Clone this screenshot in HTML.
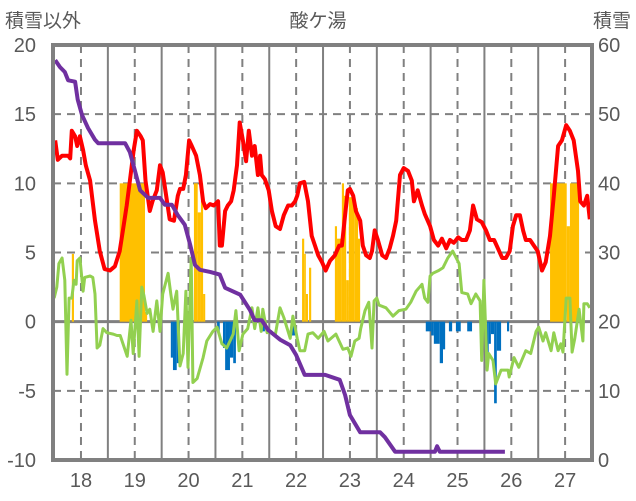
<!DOCTYPE html>
<html><head><meta charset="utf-8">
<style>
html,body{margin:0;padding:0;background:#fff;}
svg{display:block;font-family:"Liberation Sans","Noto Sans CJK JP",sans-serif;}
</style></head>
<body>
<svg id="chart" width="636" height="501" viewBox="0 0 636 501" xmlns="http://www.w3.org/2000/svg">
<text x="5" y="27" font-size="19" fill="#595959">積雪以外</text>
<text x="318" y="27" font-size="19" fill="#595959" text-anchor="middle">酸ケ湯</text>
<text x="631" y="27" font-size="19" fill="#595959" text-anchor="end">積雪</text>
<g id="grid"></g>
<g id="bars"></g>
<g id="lines"></g>
<g id="axes"></g>
</svg>
<script>
const dayTicks=[18,19,20,21,22,23,24,25,26,27];
const leftTicks=[20,15,10,5,0,-5,-10];
const rightTicks=[60,50,40,30,20,10,0];
const redDays=[17.52,17.57,17.65,17.76,17.80,17.83,17.89,17.93,17.98,18.04,18.09,18.17,18.26,18.35,18.44,18.54,18.63,18.72,18.78,18.85,18.91,18.98,19.04,19.11,19.15,19.20,19.28,19.33,19.41,19.47,19.52,19.60,19.65,19.73,19.80,19.84,19.90,19.95,20.01,20.06,20.14,20.21,20.27,20.32,20.40,20.47,20.55,20.58,20.62,20.68,20.73,20.79,20.84,20.90,20.95,21.01,21.07,21.12,21.18,21.23,21.29,21.33,21.36,21.42,21.49,21.55,21.62,21.70,21.77,21.85,21.92,21.98,22.02,22.07,22.15,22.22,22.29,22.35,22.41,22.48,22.55,22.63,22.72,22.80,22.85,22.91,22.96,23.00,23.06,23.11,23.19,23.24,23.30,23.37,23.41,23.46,23.52,23.60,23.67,23.74,23.80,23.86,23.93,24.00,24.08,24.15,24.19,24.26,24.34,24.39,24.49,24.56,24.64,24.71,24.79,24.86,24.93,25.01,25.08,25.16,25.23,25.29,25.36,25.45,25.53,25.60,25.68,25.75,25.83,25.90,25.97,26.03,26.09,26.16,26.22,26.27,26.35,26.42,26.49,26.57,26.64,26.72,26.79,26.87,26.94,27.02,27.09,27.16,27.24,27.28,27.35,27.41,27.46];
const redVals=[13.1,11.7,12.0,12.0,11.8,13.8,13.4,12.7,13.4,12.4,11.3,10.2,7.3,5.1,3.8,3.7,4.0,5.1,6.6,8.4,10.2,12.4,13.8,13.4,13.1,10.2,8.0,8.7,9.5,11.3,10.8,8.7,7.4,7.3,9.1,9.6,9.6,10.6,13.1,12.7,12.0,10.6,8.7,8.2,8.5,8.4,8.7,5.5,5.5,8.0,8.4,8.7,9.5,11.3,14.4,13.1,11.6,13.8,12.0,12.7,10.6,12.0,10.6,10.3,9.5,8.0,6.9,6.7,7.7,8.4,8.4,8.7,9.1,10.0,10.1,8.7,6.2,5.5,4.8,4.3,3.7,4.4,4.8,5.5,5.5,7.7,9.5,9.6,9.1,8.0,7.3,5.5,4.8,4.6,5.1,6.6,5.9,4.8,4.6,5.3,6.2,7.3,10.6,11.1,10.9,10.2,8.7,9.5,8.4,7.8,6.9,5.9,5.5,6.0,5.3,5.9,5.7,6.1,5.9,5.9,6.6,8.4,7.4,7.2,6.6,5.9,5.9,5.3,4.6,4.6,5.1,6.9,7.7,7.7,6.6,5.9,5.9,5.5,5.1,3.7,4.3,6.2,9.1,12.7,13.1,14.2,13.8,13.1,10.9,8.7,8.4,9.1,7.4];
const greenDays=[17.50,17.55,17.59,17.65,17.70,17.74,17.78,17.83,17.87,17.91,17.93,17.98,18.04,18.07,18.17,18.22,18.26,18.30,18.35,18.41,18.48,18.60,18.67,18.73,18.86,18.93,18.97,19.04,19.08,19.13,19.17,19.23,19.28,19.34,19.41,19.47,19.52,19.62,19.67,19.71,19.78,19.84,19.90,19.95,19.99,20.05,20.08,20.16,20.27,20.34,20.45,20.53,20.62,20.71,20.77,20.83,20.88,20.94,21.01,21.10,21.18,21.23,21.29,21.35,21.38,21.46,21.53,21.61,21.70,21.77,21.89,21.94,22.02,22.07,22.16,22.22,22.31,22.41,22.52,22.59,22.74,22.87,22.96,23.02,23.09,23.17,23.20,23.28,23.35,23.41,23.45,23.50,23.54,23.67,23.80,23.91,24.04,24.13,24.23,24.34,24.39,24.45,24.49,24.54,24.65,24.73,24.82,24.91,25.03,25.08,25.19,25.25,25.34,25.42,25.45,25.49,25.55,25.58,25.66,25.71,25.81,25.94,25.96,26.05,26.14,26.27,26.36,26.46,26.51,26.59,26.64,26.74,26.79,26.87,26.92,26.96,27.02,27.09,27.13,27.18,27.26,27.33,27.35,27.41,27.46];
const greenVals=[1.7,2.5,4.2,4.6,3.0,-3.8,1.7,1.7,3.0,2.7,4.4,4.6,2.2,3.2,3.3,3.2,2.0,-1.9,-1.7,-0.5,-0.8,-0.9,-1.0,-1.0,-2.5,0.1,-2.3,1.5,-2.5,2.5,1.9,0.6,0.9,-0.7,1.5,-0.7,2.0,3.5,2.0,0.9,2.2,-3.2,-2.3,2.2,-3.3,4.6,-4.4,-4.1,-2.6,-1.4,-0.7,-0.4,-1.6,-1.9,-1.4,-0.9,0.8,-2.1,-0.9,-0.5,1.0,-0.5,1.0,-0.7,0.9,-0.8,-0.7,-1.0,1.0,0.3,-1.2,0.4,-1.2,-2.1,-2.1,-0.9,-0.8,-1.2,-0.7,-1.4,-0.9,-2.0,-1.9,-2.5,-1.4,-1.2,-0.5,0.8,1.4,-1.9,1.5,1.7,1.2,1.0,0.4,0.8,0.9,1.4,2.2,2.7,1.7,1.4,3.3,3.5,3.7,3.9,4.6,5.1,4.2,2.1,2.0,1.3,2.0,1.5,-2.8,3.0,-3.5,-2.3,-2.8,-4.5,-3.5,-3.5,-4.0,-2.6,-3.3,-2.1,-2.3,-0.7,-0.4,-1.4,-0.8,-2.1,-0.8,-2.1,-1.6,-2.2,1.7,1.7,-2.2,-1.2,0.9,-1.4,1.3,1.3,1.0];
const snowDays=[17.52,17.61,17.70,17.76,17.89,17.94,18.02,18.13,18.26,18.32,18.82,18.91,19.00,19.10,19.25,19.47,19.56,19.69,19.80,19.93,20.03,20.12,20.21,20.40,20.58,20.68,20.96,21.14,21.23,21.36,21.48,21.70,21.89,22.00,22.16,22.54,22.81,22.91,23.00,23.19,23.56,23.65,23.84,24.58,24.62,24.67,25.88];
const snowVals=[57.8,56.8,56.1,54.9,54.7,52.1,49.9,48.0,46.3,45.8,45.8,44.5,41.9,39.0,37.9,37.9,36.9,36.9,35.4,34.0,31.1,28.2,27.5,27.2,26.8,24.9,23.9,21.7,20.2,20.2,18.8,17.4,16.6,15.2,12.3,12.3,11.6,9.4,6.5,4.0,4.0,3.3,1.2,1.2,2.0,1.2,1.2];
const orangeStart=[17.83,18.72,19.19,20.10,20.17,20.23,20.27,22.11,22.15,22.18,22.24,22.72,22.76,22.85,22.89,22.93,22.98,23.09,23.15,26.72,27.03,27.09,27.24];
const orangeEnd=[17.87,19.19,19.23,20.17,20.23,20.27,20.31,22.15,22.18,22.22,22.28,22.76,22.85,22.89,22.93,22.98,23.09,23.15,23.19,27.03,27.09,27.24,27.26];
const orangeVals=[4.9,10,0.7,10,7.9,10,2.0,6.0,4.9,2.0,3.9,6.9,6.0,10,9.1,3.0,9.0,8.2,6.0,10,6.9,10,9.0];
const blueStart=[19.67,19.71,19.78,20.53,20.64,20.68,20.77,20.83,21.33,21.92,24.41,24.51,24.56,24.67,24.73,24.84,24.97,25.18,25.55,25.58,25.62,25.68,25.73,25.92];
const blueEnd=[19.71,19.78,19.84,20.58,20.68,20.77,20.83,20.88,21.42,21.98,24.51,24.56,24.67,24.73,24.77,24.90,25.06,25.27,25.58,25.62,25.68,25.73,25.81,25.96];
const blueVals=[-2.6,-3.5,-3.0,-0.7,-1.9,-3.5,-2.6,-3.0,-0.7,-1.0,-0.7,-1.0,-1.6,-3.0,-2.0,-0.7,-0.7,-0.7,-2.2,-1.6,-0.9,-5.9,-2.1,-0.7];

const NS='http://www.w3.org/2000/svg';
const X0=53,X1=592,Y0=45,Y1=460;
const D0=17.48,D1=27.5;
function xs(d){return X0+(d-D0)/(D1-D0)*(X1-X0);}
function yl(v){return Y1-(v+10)/30*(Y1-Y0);}
function yr(v){return Y1-v/60*(Y1-Y0);}
function mk(tag,attrs,parent){const e=document.createElementNS(NS,tag);for(const k in attrs)e.setAttribute(k,attrs[k]);parent.appendChild(e);return e;}
const grid=document.getElementById('grid'),bars=document.getElementById('bars'),lines=document.getElementById('lines'),axes=document.getElementById('axes');

leftTicks.forEach(v=>{
  if(v===20||v===-10)return;
  const l=mk('line',{x1:X0,x2:X1,y1:yl(v),y2:yl(v),stroke:'#808080','stroke-width':v===0?3:2,'stroke-dasharray':v===0?'none':'8,6'},grid);
  
  
});
dayTicks.forEach(d=>{
  const l=mk('line',{x1:xs(d),x2:xs(d),y1:Y0,y2:Y1,stroke:'#808080','stroke-width':2,'stroke-dasharray':'8,6'},grid);
  
  
  if(d<27){
    const m=mk('line',{x1:xs(d+0.5),x2:xs(d+0.5),y1:Y0,y2:Y1,stroke:'#808080','stroke-width':2},grid);
    
    
  }
});
function drawBars(s,e,v,color,name){
  for(let i=0;i<v.length;i++){
    const a=xs(s[i]),b=xs(e[i]);const y=yl(v[i]),z=yl(0);
    const r=mk('rect',{x:a,y:Math.min(y,z),width:Math.max(b-a,1),height:Math.abs(z-y),fill:color},bars);
    
    
  }
}
drawBars(orangeStart,orangeEnd,orangeVals,'#ffc000','snowfall-bar');
drawBars(blueStart,blueEnd,blueVals,'#0070c0','negative-bar');
function drawLine(ds,vs,fy,color,w,name){
  const p=ds.map((d,i)=>xs(d).toFixed(1)+','+fy(vs[i]).toFixed(1)).join(' ');
  const l=mk('polyline',{points:p,fill:'none',stroke:color,'stroke-width':w,'stroke-linejoin':'round'},lines);
  
  
}
drawLine(greenDays,greenVals,yl,'#92d050',3,'green-series-line');
drawLine(redDays,redVals,yl,'#ff0000',4,'temperature-line');
drawLine(snowDays,snowVals,yr,'#7030a0',4,'snow-depth-line');

const box=mk('rect',{x:X0,y:Y0,width:X1-X0,height:Y1-Y0,fill:'none',stroke:'#808080','stroke-width':4},axes);


leftTicks.forEach(v=>{
  const t=mk('text',{x:36,y:yl(v)+7,'font-size':20,fill:'#595959','text-anchor':'end'},axes);
  t.textContent=v;
  
  
});
rightTicks.forEach(v=>{
  const t=mk('text',{x:598,y:yr(v)+7,'font-size':20,fill:'#595959'},axes);
  t.textContent=v;
  
  
});
dayTicks.forEach(d=>{
  const t=mk('text',{x:xs(d),y:487,'font-size':20,fill:'#595959','text-anchor':'middle'},axes);
  t.textContent=d;
  
  
});
</script>
</body></html>
